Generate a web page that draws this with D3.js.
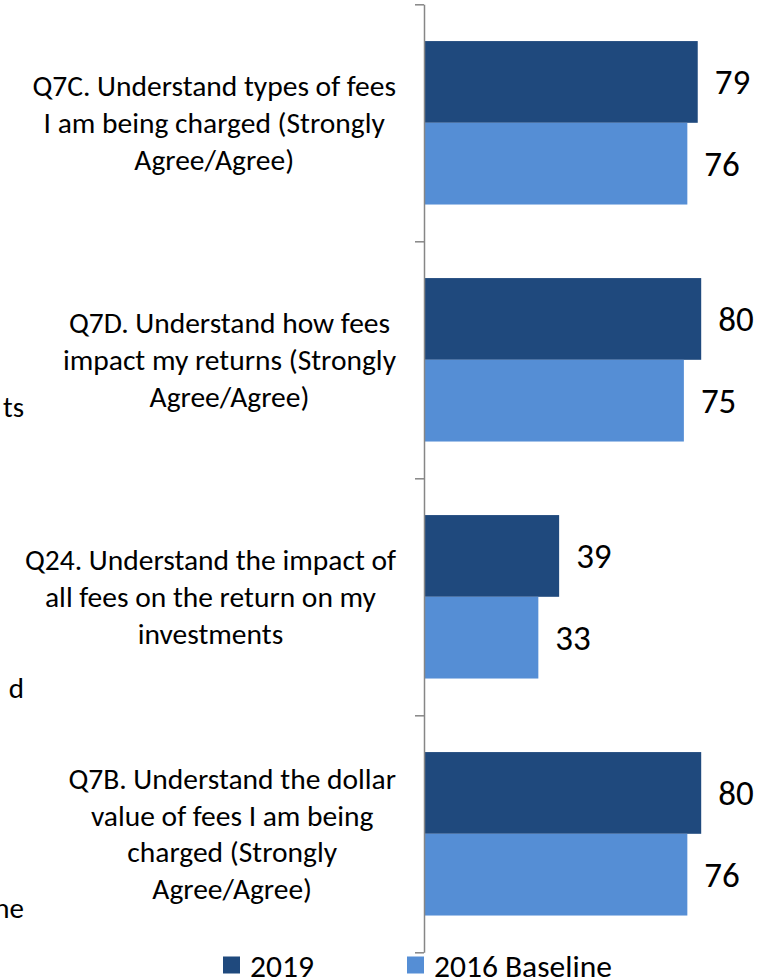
<!doctype html>
<html>
<head>
<meta charset="utf-8">
<script src="https://cdn.jsdelivr.net/npm/d3@7"></script>
<style>
  body { margin: 0; background: #fff; }
  svg text { font-family: Carlito, Calibri, Lato, sans-serif; fill: #000; }
</style>
</head>
<body>
<div id="chart"></div>
<script>
var w = 776;
var h = 977;

// data
var categories = ["Q7C", "Q7D", "Q24", "Q7B"];
var categoryLines = [
    ["Q7C. Understand types of fees", "I am being charged (Strongly", "Agree/Agree)"],
    ["Q7D. Understand how fees", "impact my returns (Strongly", "Agree/Agree)"],
    ["Q24. Understand the impact of", "all fees on the return on my", "investments"],
    ["Q7B. Understand the dollar", "value of fees I am being", "charged (Strongly", "Agree/Agree)"]
];
var seriesNames = ["2019", "2016 Baseline"];
var values2019 = [79, 80, 39, 80];
var values2016 = [76, 75, 33, 76];
var colors = ["#1F497D", "#558ED5"];
// bits of text cut off from the neighbouring chart at the left edge
var clippedText = ["ts", "d", "ne"];
var clippedY = [417, 698, 918];

var rows = categories.map(function (c, i) {
    return { key: c, lines: categoryLines[i], vals: [values2019[i], values2016[i]] };
});

var svg = d3.select("#chart").append("svg")
    .attr("width", w)
    .attr("height", h);

var axisX = 424;
var plotTop = 4.3, plotBottom = 952.3;

var y = d3.scaleBand()
    .domain(categories)
    .range([plotTop, plotBottom])
    .padding(0);

var ySeries = d3.scaleBand()
    .domain(seriesNames)
    .range([0, y.bandwidth()])
    .paddingInner(0)
    .paddingOuter(0.45);

var x = d3.scaleLinear()
    .domain([0, 100])
    .range([axisX, 770.5]);

// axis with ticks on the category boundaries
var yEdges = d3.scaleLinear()
    .domain([0, categories.length])
    .range([plotTop, plotBottom]);

var groups = svg.selectAll("g.cat")
    .data(rows)
    .enter()
    .append("g")
    .attr("class", "cat")
    .attr("transform", function (d) { return "translate(0," + y(d.key) + ")"; });

groups.selectAll("rect")
    .data(function (d) { return d.vals.map(function (v, j) { return { s: seriesNames[j], v: v, j: j }; }); })
    .enter()
    .append("rect")
    .attr("x", x(0))
    .attr("y", function (d) { return ySeries(d.s); })
    .attr("width", function (d) { return x(d.v) - x(0); })
    .attr("height", ySeries.bandwidth())
    .attr("fill", function (d) { return colors[d.j]; });

groups.selectAll("text.val")
    .data(function (d) { return d.vals.map(function (v, j) { return { s: seriesNames[j], v: v }; }); })
    .enter()
    .append("text")
    .attr("class", "val")
    .attr("x", function (d) { return x(d.v) + 17; })
    .attr("y", function (d) { return ySeries(d.s) + ySeries.bandwidth() / 2; })
    .attr("dy", "0.35em")
    .style("font-size", "35px")
    .text(function (d) { return d.v; });

// category labels: block right-aligned next to the axis, lines centred in it
var lineH = 36.7;
groups.each(function (d) {
    var g = d3.select(this);
    var t = g.append("text")
        .attr("text-anchor", "middle")
        .style("font-size", "29.5px");
    var n = d.lines.length;
    var spans = t.selectAll("tspan")
        .data(d.lines)
        .enter()
        .append("tspan")
        .attr("y", function (l, k) { return y.bandwidth() / 2 + (k - (n - 1) / 2) * lineH; })
        .attr("dy", "0.35em")
        .text(function (l) { return l; });
    var maxW = 0;
    spans.each(function () { maxW = Math.max(maxW, this.getComputedTextLength()); });
    spans.attr("x", 396 - maxW / 2);
});

svg.append("g")
    .attr("class", "y axis")
    .attr("transform", "translate(" + axisX + ",0)")
    .call(d3.axisLeft(yEdges).ticks(categories.length).tickFormat("").tickSizeInner(9).tickSizeOuter(0))
    .call(function (g) {
        g.selectAll("path, line").attr("stroke", "#868686").attr("stroke-width", 1.5);
    });

// legend
var legendX = [223, 407];
var legend = svg.selectAll("g.legend")
    .data(seriesNames)
    .enter()
    .append("g")
    .attr("class", "legend")
    .attr("transform", function (d, i) { return "translate(" + legendX[i] + ",956.5)"; });

legend.append("rect")
    .attr("width", 17)
    .attr("height", 17)
    .attr("fill", function (d, i) { return colors[i]; });

legend.append("text")
    .attr("x", 27)
    .attr("y", 20)
    .style("font-size", "31.5px")
    .text(function (d) { return d; });

svg.selectAll("text.clip")
    .data(clippedText)
    .enter()
    .append("text")
    .attr("class", "clip")
    .attr("x", 24)
    .attr("y", function (d, i) { return clippedY[i]; })
    .attr("text-anchor", "end")
    .style("font-size", "29px")
    .text(function (d) { return d; });
</script>
</body>
</html>
